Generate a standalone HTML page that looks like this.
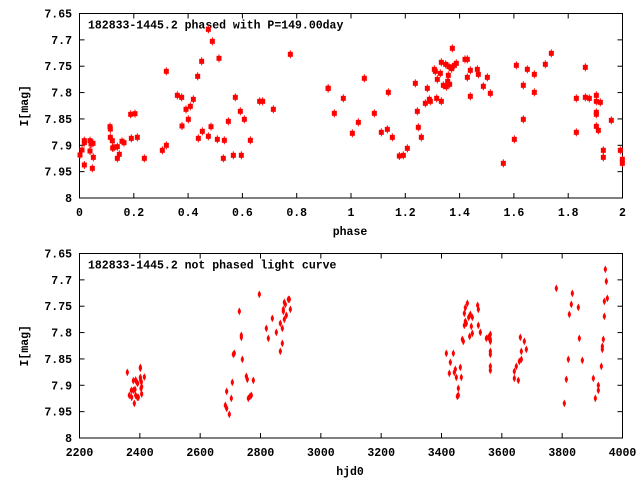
<!DOCTYPE html>
<html><head><style>
html,body{margin:0;padding:0;background:#fff;}
svg{display:block;}
text{font-family:"Liberation Mono",monospace;font-weight:bold;font-size:11.5px;fill:#000;}
</style></head><body>
<svg id="s" width="640" height="480" xmlns="http://www.w3.org/2000/svg"></svg>
<script>
var s=document.getElementById('s'),h='';
function frame(top,bot,xlabs,title,xl){
  var L=79.5,R=622.5;
  h+='<rect x="'+L+'" y="'+top+'" width="'+(R-L)+'" height="'+(bot-top)+'" fill="none" stroke="#000" stroke-width="1"/>';
  var yl=['7.65','7.7','7.75','7.8','7.85','7.9','7.95','8'];
  for(var i=0;i<8;i++){var y=top+(bot-top)*i/7;
    h+='<line x1="'+L+'" x2="'+(L+5)+'" y1="'+y+'" y2="'+y+'" stroke="#000"/><line x1="'+R+'" x2="'+(R-5)+'" y1="'+y+'" y2="'+y+'" stroke="#000"/>';
    h+='<text x="72" y="'+(y+4)+'" text-anchor="end">'+yl[i]+'</text>';}
  var n=xlabs.length;
  for(var i=0;i<n;i++){var x=L+(R-L)*i/(n-1);
    h+='<line x1="'+x+'" x2="'+x+'" y1="'+bot+'" y2="'+(bot-5)+'" stroke="#000"/><line x1="'+x+'" x2="'+x+'" y1="'+top+'" y2="'+(top+5)+'" stroke="#000"/>';
    h+='<text x="'+x+'" y="'+(bot+18)+'" text-anchor="middle">'+xlabs[i]+'</text>';}
  h+='<text x="88" y="'+(top+15)+'">'+title+'</text>';
  h+='<text x="350" y="'+(bot+37)+'" text-anchor="middle">'+xl+'</text>';
  var cy=(top+bot)/2;
  h+='<text x="28" y="'+cy+'" text-anchor="middle" transform="rotate(-90 28 '+cy+')">I[mag]</text>';
}
frame(13.5,198,['0','0.2','0.4','0.6','0.8','1','1.2','1.4','1.6','1.8','2'],'182833-1445.2 phased with P=149.00day','phase');
frame(253.5,438,['2200','2400','2600','2800','3000','3200','3400','3600','3800','4000'],'182833-1445.2 not phased light curve','hjd0');
var A=[240,465,246,450,253,495,253,422,253,428,270,422,270,453,273,432,279,430,280,472,277,505,330,380,331,387,331,412,337,422,338,444,342,442,352,440,352,475,358,463,366,424,372,428,392,343,405,341,394,415,412,412,433,475,487,451,499,436,499,214,532,286,545,292,546,378,558,328,565,358,571,319,580,298,593,229,595,415,605,184,607,394,625,88,625,409,633,380,637,124,652,418,657,175,670,475,673,421,685,364,700,466,706,292,721,334,724,466,733,358,751,421,779,304,788,304,820,328,871,163,984,265];
var B=[25,265,43,340,70,295,97,400,115,367,133,235,163,340,184,397,202,388,205,277,217,412,238,468,250,466,262,445,286,250,292,334,295,382,304,412,316,310,322,265,328,298,331,304,343,208,346,214,350,295,352,238,361,220,364,187,364,304,370,256,377,193,379,260,383,244,385,226,389,253,387,200,395,206,397,145,403,196,409,190,435,178,442,178,442,232,451,289,451,211,472,208,475,223,490,259,502,232,511,280,550,490,583,418,589,196,610,358,610,256,622,208,643,223,643,277,676,193,694,160,769,295,769,397,796,202,796,292,808,295,829,286,829,304,829,337,829,343,829,379,835,391,841,307,850,451,850,472,874,361,901,451,907,478,907,490];
var C=[382,397,394,451,395,472,400,451,403,490,405,448,407,420,410,426,407,466,412,472,413,430,415,472,421,382,421,385,421,412,422,420,423,445,424,426,425,462,425,440,433,411,400,422,388,466,676,496,680,505,688,523,680,454,694,475,697,427,700,343,703,340,718,214,724,286,724,292,727,358,739,409,742,418,745,475,750,469,754,466,760,421,778,163,799,265,805,295,817,235,829,277,841,250,841,334,847,265,847,310,850,208,850,214,853,187,853,238,856,193,859,226,865,178,868,178,871,208];
var D=[379,340,388,400,391,367,400,340,403,397,406,388,409,412,412,469,415,445,415,466,421,382,424,412,427,298,430,304,433,220,433,256,436,244,436,203,439,250,442,190,446,232,449,289,451,223,454,259,457,232,457,280,473,196,475,208,475,256,481,277,499,295,505,292,511,283,511,298,511,304,511,334,511,343,511,379,511,391,583,394,583,415,589,379,595,421,598,364,601,292,604,334,604,358,613,304,619,328,709,145,733,490,739,418,745,358,748,223,754,193,757,160,775,202,778,295,787,361,820,415,826,475,835,436,835,451,844,379,847,328,847,319,850,298,853,229,853,184,856,88,859,124,862,175];
function sq(arr,ox,oy){for(var i=0;i<arr.length;i+=2){var x=arr[i]/3+ox,y=arr[i+1]/3+oy;
  h+='<line x1="'+x+'" x2="'+x+'" y1="'+(y-4)+'" y2="'+(y+4)+'" stroke="#f00"/><rect x="'+(x-2.5)+'" y="'+(y-2.5)+'" width="5" height="5" fill="#f00"/>';}}
function el(arr,ox,oy){for(var i=0;i<arr.length;i+=2){var x=arr[i]/3+ox,y=arr[i+1]/3+oy;
  h+='<line x1="'+x+'" x2="'+x+'" y1="'+(y-3.5)+'" y2="'+(y+3.5)+'" stroke="#f00"/><ellipse cx="'+x+'" cy="'+y+'" rx="1.6" ry="2.6" fill="#f00"/>';}}
sq(A,0,0);sq(B,320,0);el(C,0,240);el(D,320,240);
s.innerHTML=h;
</script>
</body></html>
